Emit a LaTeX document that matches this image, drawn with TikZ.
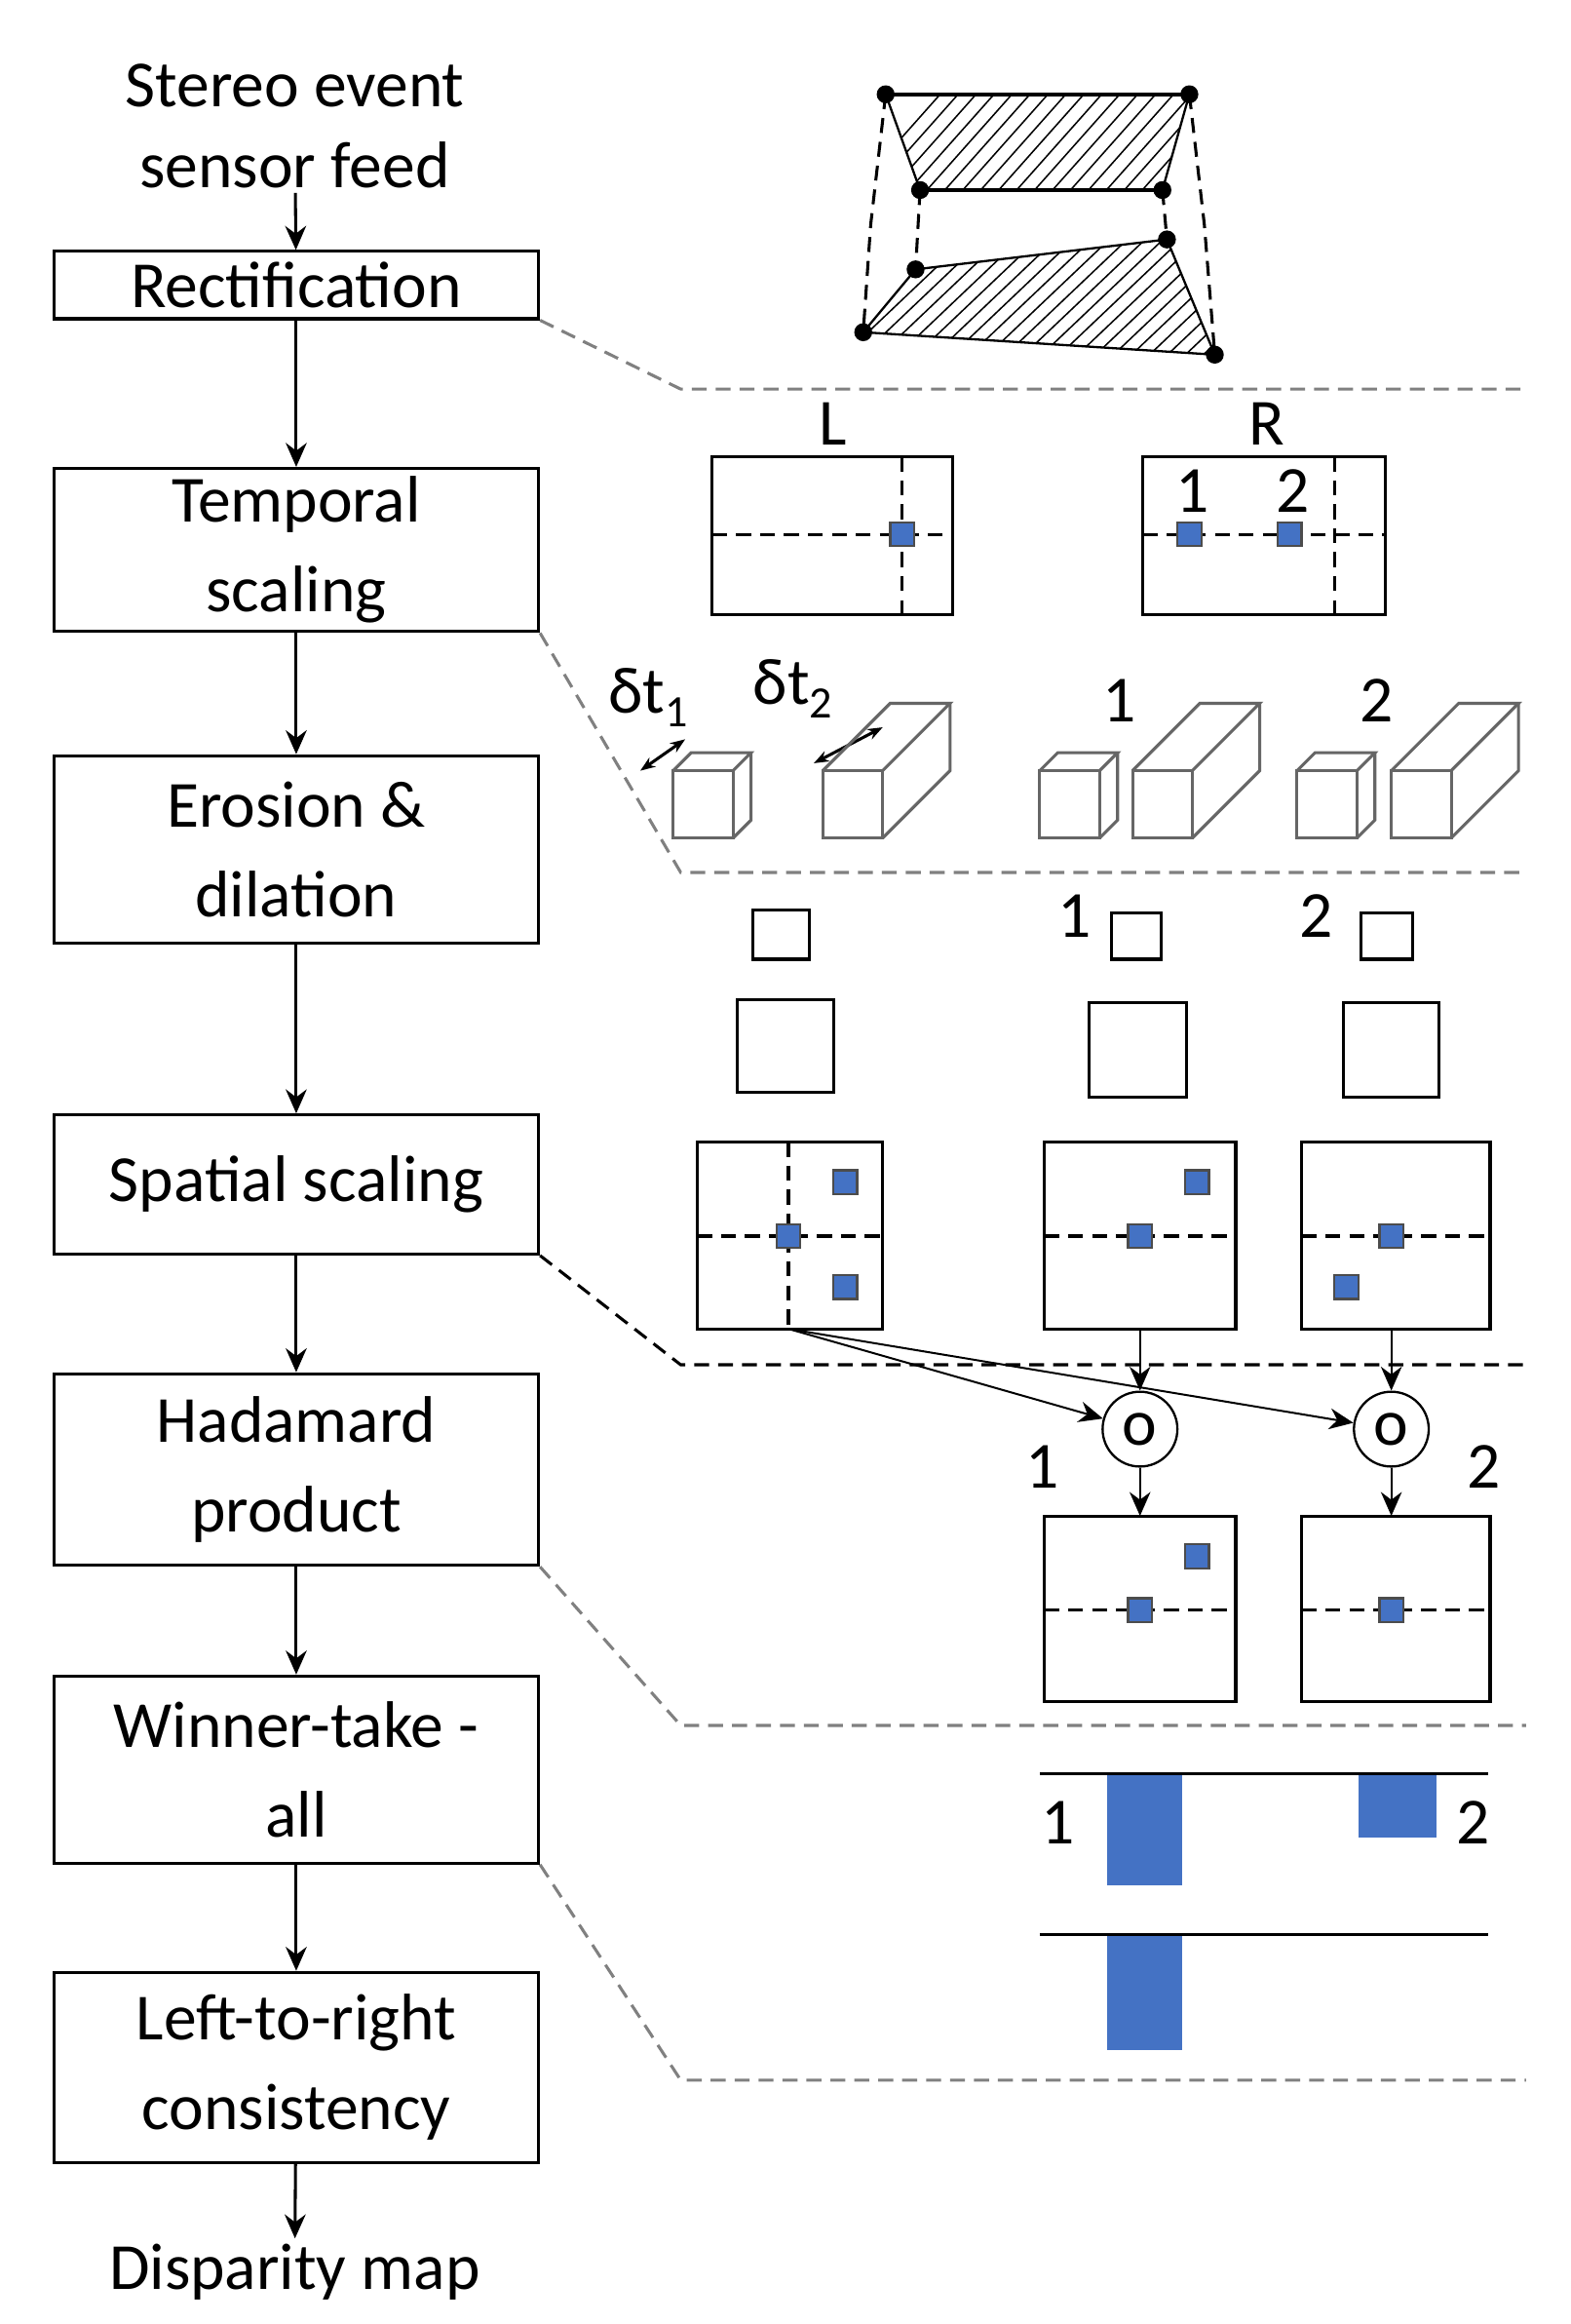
\documentclass[tikz,border=0pt]{standalone}
\usepackage{fontspec}
\setmainfont{Carlito}
\usetikzlibrary{arrows.meta}
\definecolor{bl}{HTML}{4472C4}
\newcommand\mycube[5]{\begin{scope}[shift={(#1,#2)}]
\draw[cube] (0,0) rectangle (#3,#4);
\draw[cube] (0,0)--(#5,-#5)--({#3+#5},-#5)--(#3,0);
\draw[cube] ({#3+#5},-#5)--({#3+#5},{#4-#5})--(#3,#4);
\end{scope}}
\newcommand\bsq[2]{\draw[sq] ({#1-8},{#2-8}) rectangle ({#1+8},{#2+8});}
\newcommand\mysub[1]{{\fontsize{30}{30}\selectfont\raisebox{-9pt}{#1}}}
\begin{document}
\begin{tikzpicture}[x=1pt,y=-1pt,
 box/.style={draw,line width=2pt,minimum width=324pt,align=center,inner sep=0pt,font=\fontsize{44}{60}\selectfont},
 lbl/.style={font=\fontsize{44}{50}\selectfont},
 arr/.style={-{Stealth[length=16pt,width=14pt]},line width=2pt},
 gd/.style={gray,line width=2pt,dash pattern=on 10pt off 6pt},
 sq/.style={fill=bl,draw=black!70,line width=1.5pt},
 cube/.style={draw=gray!80!black,line width=2pt},
 fr/.style={draw,line width=2pt},
 dl/.style={line width=2pt,dash pattern=on 10pt off 6pt},
 bar/.style={fill=bl}]
\path[use as bounding box,fill=white] (0,0) rectangle (1050,1553);
% left column
\node[lbl,align=center] (in) at (197,84) {Stereo event\\[4pt]sensor feed};
\node[box,minimum height=45pt] (r) at (198,190.5) {Rectification};
\node[box,minimum height=109pt] (t) at (198,367.5) {Temporal\\scaling};
\node[box,minimum height=125pt] (e) at (198,567.5) {Erosion \&\\dilation};
\node[box,minimum height=93pt] (s) at (198,791.5) {Spatial scaling};
\node[box,minimum height=128pt] (h) at (198,982) {Hadamard\\product};
\node[box,minimum height=125pt] (w) at (198,1182.5) {Winner-take -\\all};
\node[box,minimum height=127pt] (c) at (198,1381.5) {Left-to-right\\consistency};
\node[lbl] (out) at (197,1518) {Disparity map};
\draw[arr] (in)--(r); \draw[arr] (r)--(t); \draw[arr] (t)--(e); \draw[arr] (e)--(s);
\draw[arr] (s)--(h); \draw[arr] (h)--(w); \draw[arr] (w)--(c); \draw[arr] (c)--(out);
% guide lines
\draw[gd] (r.south east)--(455,260)--(1020,260);
\draw[gd] (t.south east)--(455,583)--(1020,583);
\draw[dl] (s.south east)--(455,912)--(1020,912);
\draw[gd] (h.south east)--(455,1153)--(1020,1153);
\draw[gd] (w.south east)--(455,1390)--(1020,1390);
% rectification sketch
\begin{scope}
\clip (592,63)--(795,63)--(777,127)--(615,127)--cycle;
\foreach \i in {0,...,30} \draw[line width=1pt] ({560+\i*12},140)--({640+\i*12},50);
\end{scope}
\begin{scope}
\clip (612,180)--(780,160)--(812,237)--(577,222)--cycle;
\foreach \i in {0,...,30} \draw[line width=1pt] ({520+\i*12},245)--({620+\i*12},150);
\end{scope}
\draw[line width=2.5pt] (592,63)--(795,63) (615,127)--(777,127);
\draw[line width=1.5pt] (612,180)--(780,160) (577,222)--(812,237);
\draw[dl] (592,63)--(582,150)--(577,222) (795,63)--(805,150)--(812,237);
\draw[line width=1.5pt] (592,63)--(615,127) (795,63)--(777,127) (612,180)--(577,222) (780,160)--(812,237);
\draw[dl] (615,127)--(612,180) (777,127)--(780,160);
\foreach \p in {(592,63),(795,63),(615,127),(777,127),(612,180),(780,160),(577,222),(812,237)} \fill \p circle (6);
% L R
\node[lbl] (L) at (557,283) {L};
\node[lbl] (R) at (847,283) {R};
\draw[fr] (476,305) rectangle (637,411);
\draw[dl] (476,357)--(637,357) (603,305)--(603,411);
\bsq{603}{357}
\draw[fr] (764,305) rectangle (926,411);
\draw[dl] (764,357)--(926,357) (892,305)--(892,411);
\bsq{795}{357}\bsq{862}{357}
\node[lbl] at (797,328) {1}; \node[lbl] at (864,328) {2};
% cubes
\node[lbl] at (433,466) {δt\mysub{1}};
\node[lbl] at (530,460) {δt\mysub{2}};
\draw[{Stealth[length=10pt]}-{Stealth[length=10pt]},line width=2pt] (428,515)--(458,494);
\draw[{Stealth[length=10pt]}-{Stealth[length=10pt]},line width=2pt] (544,510)--(590,486);
\mycube{450}{515}{40}{45}{12}
\mycube{550}{515}{40}{45}{45}
\node[lbl] at (748,468) {1};
\mycube{695}{515}{40}{45}{12}
\mycube{757}{515}{40}{45}{45}
\node[lbl] at (920,468) {2};
\mycube{867}{515}{40}{45}{12}
\mycube{930}{515}{40}{45}{45}
% erosion
\draw[fr] (503,608) rectangle (541,641);
\draw[fr] (493,668) rectangle (557,730);
\node[lbl] at (718,612) {1};
\draw[fr] (743,610) rectangle (776,641);
\draw[fr] (728,670) rectangle (793,733);
\node[lbl] at (880,612) {2};
\draw[fr] (910,610) rectangle (944,641);
\draw[fr] (898,670) rectangle (962,733);
% spatial
\draw[fr] (466,763) rectangle (590,888);
\draw[dl] (466,826)--(590,826) (527,763)--(527,888);
\bsq{565}{790}\bsq{527}{826}\bsq{565}{860}
\draw[fr] (698,763) rectangle (826,888);
\draw[dl] (698,826)--(826,826);
\bsq{762}{826}\bsq{800}{790}
\draw[fr] (870,763) rectangle (996,888);
\draw[dl] (870,826)--(996,826);
\bsq{930}{826}\bsq{900}{860}
% hadamard
\node[draw,line width=1.5pt,circle,minimum size=50pt,inner sep=0pt,lbl] (h1) at (762,955) {o};
\node[draw,line width=1.5pt,circle,minimum size=50pt,inner sep=0pt,lbl] (h2) at (930,955) {o};
\coordinate (sb) at (527,888);
\draw[arr,line width=1.3pt] (sb)--(h1); \draw[arr,line width=1.3pt] (sb)--(h2);
\draw[arr,line width=1.3pt] (762,888)--(h1); \draw[arr,line width=1.3pt] (930,888)--(h2);
\node[lbl] at (697,980) {1}; \node[lbl] at (992,980) {2};
\draw[fr] (698,1013) rectangle (826,1137);
\draw[dl] (698,1076)--(826,1076);
\bsq{762}{1076}\bsq{800}{1040}
\draw[fr] (870,1013) rectangle (996,1137);
\draw[dl] (870,1076)--(996,1076);
\bsq{930}{1076}
\draw[arr,line width=1.3pt] (h1)--(762,1013); \draw[arr,line width=1.3pt] (h2)--(930,1013);
% WTA
\fill[bl] (740,1185) rectangle (790,1260);
\fill[bl] (908,1185) rectangle (960,1228);
\draw[line width=2pt] (695,1185)--(995,1185);
\node[lbl] at (707,1218) {1}; \node[lbl] at (985,1218) {2};
\fill[bl] (740,1293) rectangle (790,1370);
\draw[line width=2pt] (695,1293)--(995,1293);
\end{tikzpicture}
\end{document}
